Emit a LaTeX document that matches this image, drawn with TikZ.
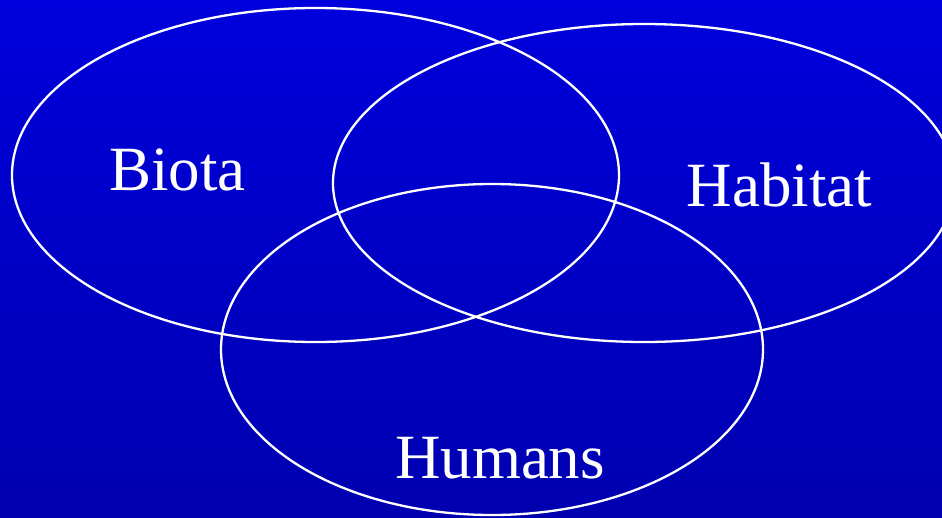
\documentclass[tikz,border=0pt]{standalone}
\usepackage{fontspec}
\setmainfont{Liberation Serif}
\usepackage{tikz}
\definecolor{bgtop}{RGB}{0,0,220}
\definecolor{bgbot}{RGB}{0,0,176}
\tikzset{
    venn/.style={draw=white,line width=2.3pt},
    setlbl/.style={text=white,anchor=base,inner sep=0pt,font=\fontsize{63}{63}\selectfont},
}

\begin{document}
\begin{tikzpicture}[x=1pt,y=-1pt]
% background
\shade[top color=bgtop,bottom color=bgbot] (0,0) rectangle (942,517);
\useasboundingbox (0,0) rectangle (942,517);

% sets
\draw[venn] (315.5,175) ellipse [x radius=303.5,y radius=167];
\draw[venn] (644,183) ellipse [x radius=311,y radius=159];
\draw[venn] (492,349.5) ellipse [x radius=271,y radius=165.5];

% labels
\node[setlbl] (biota)   at (177.5,190) {Biota};
\node[setlbl] (habitat) at (779.5,206) {Habitat};
\node[setlbl] (humans)  at (500,478)   {Humans};
\end{tikzpicture}
\end{document}
